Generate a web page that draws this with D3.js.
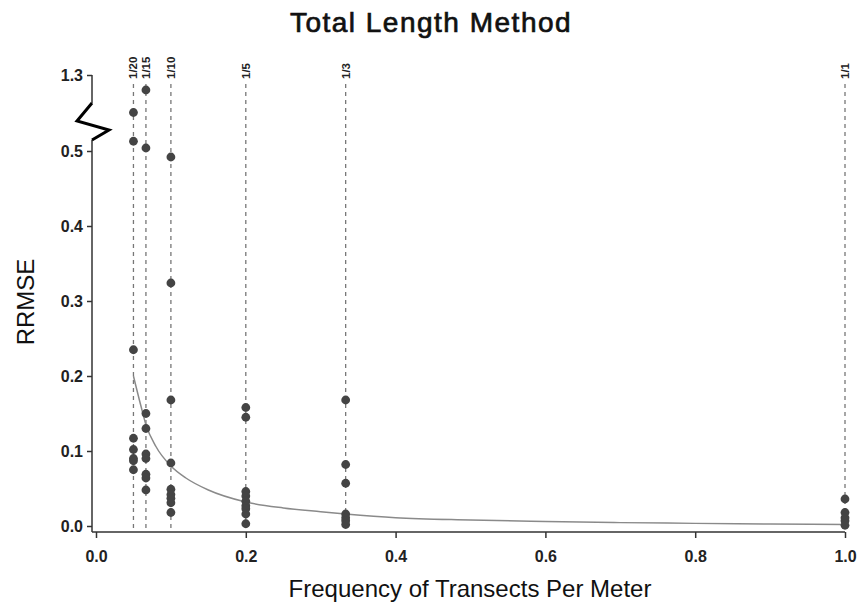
<!DOCTYPE html>
<html>
<head>
<meta charset="utf-8">
<script src="https://cdn.jsdelivr.net/npm/d3@7"></script>
<style>
  body { margin: 0; background: #fff; }
  text { font-family: "Liberation Sans", Arial, sans-serif; }
</style>
</head>
<body>
<script>
// frecuencias de transectos y etiquetas de arriba
const freqs = [1/20, 1/15, 1/10, 1/5, 1/3, 1];
const freqLabels = ["1/20", "1/15", "1/10", "1/5", "1/3", "1/1"];

// RRMSE, uno por frecuencia
const r20 = [1.25, 0.513, 0.235, 0.117, 0.102, 0.090, 0.087, 0.075];
const r15 = [1.28, 0.504, 0.150, 0.130, 0.096, 0.090, 0.069, 0.064, 0.048];
const r10 = [0.492, 0.324, 0.168, 0.084, 0.049, 0.042, 0.037, 0.031, 0.018];
const r5 = [0.158, 0.145, 0.046, 0.040, 0.033, 0.027, 0.023, 0.016, 0.003];
const r3 = [0.168, 0.082, 0.057, 0.016, 0.011, 0.007, 0.002];
const r1 = [0.036, 0.018, 0.011, 0.007, 0.001];
const series = [r20, r15, r10, r5, r3, r1];

// curva ajustada (leida a ojo)
const fitX = [0.05, 0.06, 0.0667, 0.08, 0.1, 0.12, 0.15, 0.2, 0.25, 0.3, 0.333, 0.4, 0.5, 0.6, 0.7, 0.8, 0.9, 1.0];
const fitY = [0.200, 0.160, 0.135, 0.106, 0.080, 0.064, 0.048, 0.032, 0.024, 0.019, 0.016, 0.011, 0.008, 0.006, 0.0045, 0.0035, 0.0027, 0.002];

const xTicks = [0, 0.2, 0.4, 0.6, 0.8, 1.0];
const yTicks = [0, 0.1, 0.2, 0.3, 0.4, 0.5, 1.3];

const width = 866, height = 607;
const axisX = 92, axisY = 532;

const svg = d3.select("body").append("svg")
    .attr("width", width)
    .attr("height", height);

// escalas
const x = d3.scaleLinear().domain([0, 1]).range([96, 845]);
// eje Y cortado: 0-0.52 abajo, 1.24-1.3 arriba
const y = d3.scaleLinear()
    .domain([0, 0.52, 1.24, 1.3])
    .range([526, 136, 120, 75]);

const axisColor = "#333";

// titulo
svg.append("text")
    .attr("x", 431).attr("y", 32)
    .attr("text-anchor", "middle")
    .style("font-size", "28px")
    .style("letter-spacing", "1.5px")
    .attr("fill", "#111")
    .attr("stroke", "#111")
    .attr("stroke-width", 0.7)
    .text("Total Length Method");

// lineas verticales punteadas
svg.append("g").selectAll("line")
    .data(freqs)
    .join("line")
    .attr("x1", d => x(d)).attr("x2", d => x(d))
    .attr("y1", 84).attr("y2", axisY)
    .attr("stroke", "#777")
    .attr("stroke-width", 1.3)
    .attr("stroke-dasharray", "4,4");

// etiquetas de frecuencia
svg.append("g").selectAll("text")
    .data(freqs)
    .join("text")
    .attr("transform", (d) => "translate(" + (x(d) + 4) + ",79) rotate(-90)")
    .style("font-size", "11.5px")
    .style("font-weight", "bold")
    .attr("fill", "#222")
    .text((d, i) => freqLabels[i]);

// curva
const linea = d3.line()
    .x((d, i) => x(fitX[i]))
    .y(d => y(d))
    .curve(d3.curveMonotoneX);

svg.append("path")
    .datum(fitY)
    .attr("fill", "none")
    .attr("stroke", "#8a8a8a")
    .attr("stroke-width", 1.5)
    .attr("d", linea);

// puntos
const puntos = [];
series.forEach((s, i) => s.forEach(v => puntos.push({f: freqs[i], v: v})));

svg.append("g").selectAll("circle")
    .data(puntos)
    .join("circle")
    .attr("cx", d => x(d.f))
    .attr("cy", d => y(d.v))
    .attr("r", 4.4)
    .attr("fill", "#444");

// EJE X
const gx = svg.append("g")
    .attr("transform", "translate(0," + axisY + ")")
    .call(d3.axisBottom(x).tickValues(xTicks).tickSize(6).tickPadding(13).tickFormat(d3.format(".1f")));
gx.select(".domain").remove();
gx.selectAll("line").attr("stroke", axisColor).attr("stroke-width", 1.5);
gx.selectAll("text").style("font-size", "16px").style("font-weight", "bold").attr("fill", "#222");
svg.append("line")
    .attr("x1", axisX).attr("x2", x(1))
    .attr("y1", axisY).attr("y2", axisY)
    .attr("stroke", axisColor).attr("stroke-width", 1.5);

// EJE Y
const gy = svg.append("g")
    .attr("transform", "translate(" + axisX + ",0)")
    .call(d3.axisLeft(y).tickValues(yTicks).tickSize(5).tickPadding(4).tickFormat(d3.format(".1f")));
gy.select(".domain").remove();
gy.selectAll("line").attr("stroke", axisColor).attr("stroke-width", 1.5);
gy.selectAll("text").style("font-size", "16px").style("font-weight", "bold").attr("fill", "#222");

// linea del eje con el corte en zigzag
svg.append("path")
    .attr("d", "M" + axisX + "," + y(1.3) + "V103")
    .attr("fill", "none").attr("stroke", axisColor).attr("stroke-width", 1.5);
svg.append("path")
    .attr("d", "M" + axisX + ",140V" + axisY)
    .attr("fill", "none").attr("stroke", axisColor).attr("stroke-width", 1.5);
svg.append("path")
    .attr("d", "M" + axisX + ",103L77,121L109,130L" + axisX + ",140")
    .attr("fill", "none").attr("stroke", "#000").attr("stroke-width", 3)
    .attr("stroke-linejoin", "miter");

// titulos de ejes
svg.append("text")
    .attr("x", 470).attr("y", 597)
    .attr("text-anchor", "middle")
    .style("font-size", "24px")
    .attr("fill", "#111")
    .text("Frequency of Transects Per Meter");

svg.append("text")
    .attr("transform", "translate(34,302) rotate(-90)")
    .attr("text-anchor", "middle")
    .style("font-size", "24px")
    .attr("fill", "#111")
    .text("RRMSE");
</script>
</body>
</html>
